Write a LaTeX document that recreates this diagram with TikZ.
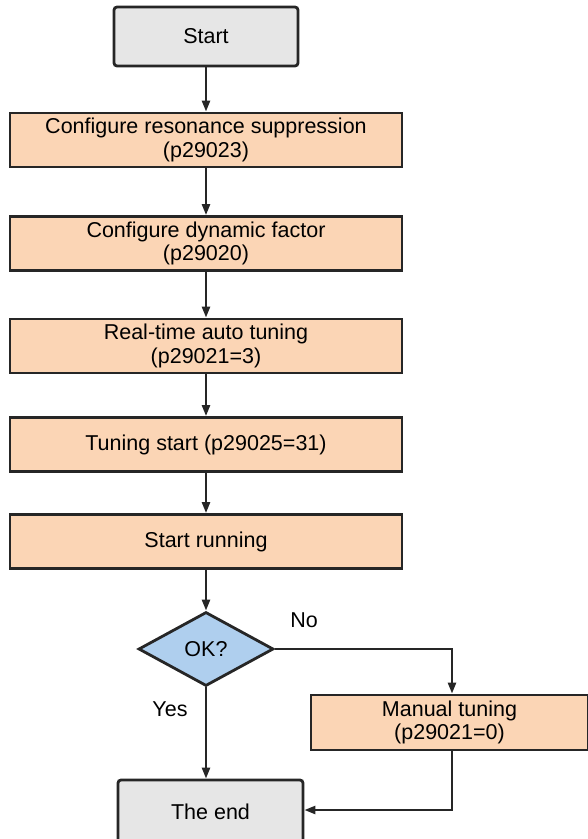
\documentclass[tikz,border=0pt]{standalone}
\usepackage{fontspec}
\setmainfont{Liberation Sans}
\usetikzlibrary{shapes.geometric,arrows.meta}
\definecolor{peach}{HTML}{FBD5B5}
\definecolor{termgray}{HTML}{E6E6E6}
\definecolor{decblue}{HTML}{AFCFEE}
\begin{document}
\begin{tikzpicture}[x=1pt,y=-1pt,
  every node/.style={font=\fontsize{21.5}{23.5}\selectfont, text=black},
  term/.style={draw=black!85, line width=2.8pt, fill=termgray, rounded corners=3pt, minimum width=184pt, minimum height=59pt, inner sep=0pt},
  proc/.style={draw=black!85, line width=2.8pt, fill=peach, minimum width=392pt, minimum height=54pt, inner sep=0pt, align=center},
  dec/.style={draw=black!85, line width=2.8pt, fill=decblue, diamond, minimum width=135pt, minimum height=74pt, inner sep=0pt},
  conn/.style={draw=black!85, line width=2.4pt, -{Triangle[length=11pt,width=8pt]}},
  lbl/.style={}]
\useasboundingbox (0,0) rectangle (588,839);
\node[term] (start) at (206,36.5) {Start};
\node[proc] (p1) at (206,140) {Configure resonance suppression\\(p29023)};
\node[proc] (p2) at (206,243.5) {Configure dynamic factor\\(p29020)};
\node[proc] (p3) at (206,346) {Real-time auto tuning\\(p29021=3)};
\node[proc] (p4) at (206,444.5) {Tuning start (p29025=31)};
\node[proc] (p5) at (206,541.5) {Start running};
\node[dec] (ok) at (206,649) {OK?};
\node[proc, minimum width=277pt, minimum height=55pt] (man) at (449.5,722.5) {Manual tuning\\(p29021=0)};
\node[term, minimum width=185pt, minimum height=64pt] (end) at (210.5,812) {The end};
\node[lbl] at (304,620) {No};
\node[lbl] at (170,709) {Yes};
\coordinate (c1) at (452,649);
\coordinate (c2) at (452,810);
\draw[conn] (start.south) -- (p1.north);
\draw[conn] (p1.south) -- (p2.north);
\draw[conn] (p2.south) -- (p3.north);
\draw[conn] (p3.south) -- (p4.north);
\draw[conn] (p4.south) -- (p5.north);
\draw[conn] (p5.south) -- (ok.north);
\draw[conn] (ok.south) -- (ok.south |- end.north);
\draw[conn] (ok.east) -- (c1) -- (c1 |- man.north);
\draw[conn] (c2 |- man.south) -- (c2) -- (c2 -| end.east);
\end{tikzpicture}
\end{document}
